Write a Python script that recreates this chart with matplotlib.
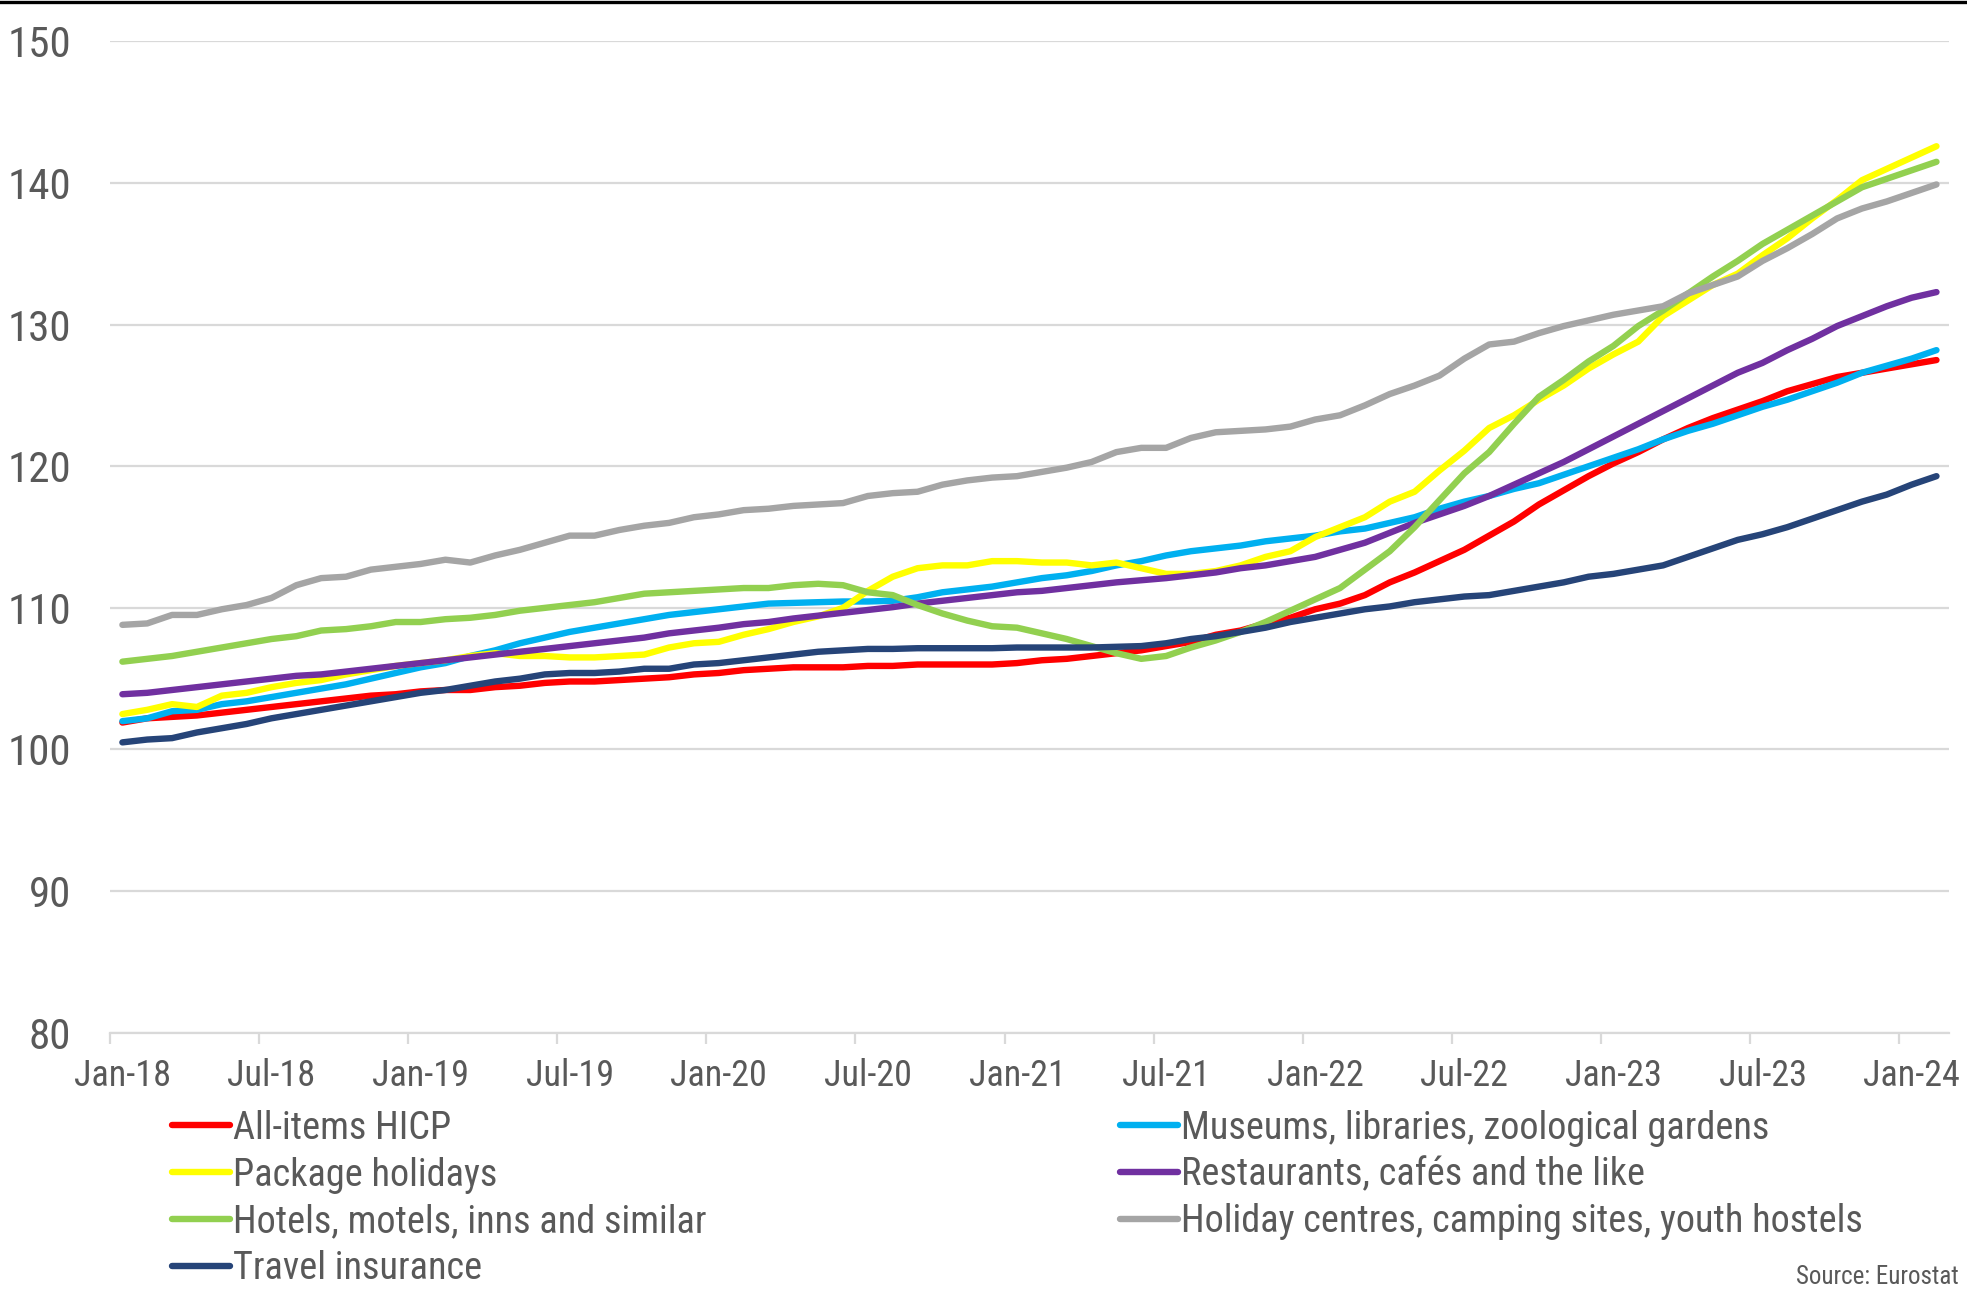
import matplotlib
matplotlib.use("Agg")
import matplotlib.pyplot as plt
from matplotlib.lines import Line2D
from matplotlib import font_manager as fm
import numpy as np

# ---------------- data (monthly index, Jan-18 .. Feb-24) ----------------
hicp = [101.9, 102.2, 102.3, 102.4, 102.6, 102.8, 103.0, 103.2, 103.4, 103.6, 103.8, 103.9, 104.1,
        104.2, 104.2, 104.4, 104.5, 104.7, 104.8, 104.8, 104.9, 105.0, 105.1, 105.3, 105.4, 105.6,
        105.7, 105.8, 105.8, 105.8, 105.9, 105.9, 106.0, 106.0, 106.0, 106.0, 106.1, 106.3, 106.4,
        106.6, 106.8, 107.0, 107.3, 107.6, 108.1, 108.4, 108.9, 109.3, 109.9,
        110.3, 110.9, 111.8, 112.5, 113.3, 114.1, 115.1, 116.1, 117.3, 118.3, 119.3, 120.2, 121.0,
        121.9, 122.7, 123.4, 124.0, 124.6, 125.3, 125.8, 126.3, 126.6, 126.9, 127.2, 127.5]

museums = [102.0, 102.2, 102.7, 102.8, 103.2, 103.4, 103.7, 104.0, 104.3, 104.6, 105.0, 105.4, 105.8,
           106.1, 106.6, 107.0, 107.5, 107.9, 108.3, 108.6, 108.9, 109.2, 109.5, 109.7, 109.9,
           110.1, 110.3, 110.35, 110.4, 110.45, 110.45, 110.5, 110.75, 111.1, 111.3, 111.5, 111.8,
           112.1, 112.3, 112.6, 113.0, 113.3, 113.7, 114.0, 114.2, 114.4, 114.7, 114.9, 115.1, 115.4,
           115.6, 116.0,
           116.4, 117.0, 117.5, 117.9, 118.4, 118.8, 119.4, 120.0, 120.6, 121.2, 121.9, 122.5, 123.0,
           123.6, 124.2, 124.7, 125.3, 125.9, 126.6, 127.1, 127.6, 128.2]

package = [102.5, 102.8, 103.2, 103.0, 103.8, 104.0, 104.4, 104.7, 104.9, 105.3, 105.6, 105.9, 106.1,
           106.3, 106.6, 106.8, 106.6, 106.6, 106.5, 106.5, 106.6, 106.7, 107.2, 107.5, 107.6,
           108.1, 108.5, 109.0, 109.4, 110.0, 111.2, 112.2, 112.8, 113.0, 113.0, 113.3, 113.3, 113.2,
           113.2, 113.0, 113.2, 112.8, 112.4, 112.4, 112.6, 113.0, 113.6, 114.0, 115.0, 115.7, 116.4,
           117.5,
           118.2, 119.7, 121.1, 122.7, 123.6, 124.7, 125.7, 126.9, 127.9, 128.8, 130.6, 131.7, 132.8,
           133.6, 134.9, 136.1, 137.5, 138.8, 140.2, 141.0, 141.8, 142.6]

restaurants = [103.9, 104.0, 104.2, 104.4, 104.6, 104.8, 105.0, 105.2, 105.3, 105.5, 105.7, 105.9,
               106.1, 106.3, 106.5, 106.7, 106.9, 107.1, 107.3, 107.5, 107.7, 107.9, 108.2, 108.4,
               108.6, 108.85, 109.0, 109.25, 109.45, 109.65, 109.85, 110.05, 110.3, 110.5, 110.7,
               110.9, 111.1, 111.2, 111.4, 111.6, 111.8, 111.95, 112.1, 112.3, 112.5, 112.8, 113.0,
               113.3, 113.6, 114.1, 114.6, 115.3,
               116.0, 116.6, 117.2, 117.9, 118.7, 119.5, 120.3, 121.2, 122.1, 123.0, 123.9, 124.8,
               125.7, 126.6, 127.3, 128.2, 129.0, 129.9, 130.6, 131.3, 131.9, 132.3]

hotels = [106.2, 106.4, 106.6, 106.9, 107.2, 107.5, 107.8, 108.0, 108.4, 108.5, 108.7, 109.0, 109.0,
          109.2, 109.3, 109.5, 109.8, 110.0, 110.2, 110.4, 110.7, 111.0, 111.1, 111.2, 111.3,
          111.4, 111.4, 111.6, 111.7, 111.6, 111.1, 110.9, 110.2, 109.6, 109.1, 108.7, 108.6, 108.2,
          107.8, 107.3, 106.8, 106.4, 106.6, 107.2, 107.7, 108.3, 109.0, 109.8, 110.6, 111.4, 112.7,
          114.0,
          115.7, 117.6, 119.5, 121.0, 123.0, 124.9, 126.1, 127.4, 128.5, 129.9, 131.0, 132.2, 133.4,
          134.5, 135.7, 136.7, 137.7, 138.7, 139.7, 140.3, 140.9, 141.5]

holiday_centres = [108.8, 108.9, 109.5, 109.5, 109.9, 110.2, 110.7, 111.6, 112.1, 112.2, 112.7, 112.9,
                   113.1, 113.4, 113.2, 113.7, 114.1, 114.6, 115.1, 115.1, 115.5, 115.8, 116.0, 116.4,
                   116.6, 116.9,
                   117.0, 117.2, 117.3, 117.4, 117.9, 118.1, 118.2, 118.7, 119.0, 119.2, 119.3, 119.6,
                   119.9, 120.3, 121.0, 121.3, 121.3, 122.0, 122.4, 122.5, 122.6, 122.8, 123.3, 123.6,
                   124.3, 125.1,
                   125.7, 126.4, 127.6, 128.6, 128.8, 129.4, 129.9, 130.3, 130.7, 131.0, 131.3, 132.2,
                   132.8, 133.4, 134.5, 135.4, 136.4, 137.5, 138.2, 138.7, 139.3, 139.9]

travel_insurance = [100.5, 100.7, 100.8, 101.2, 101.5, 101.8, 102.2, 102.5, 102.8, 103.1, 103.4, 103.7,
                    104.0, 104.2, 104.5, 104.8, 105.0, 105.3, 105.4, 105.4, 105.5, 105.7, 105.7, 106.0,
                    106.1, 106.3,
                    106.5, 106.7, 106.9, 107.0, 107.1, 107.1, 107.15, 107.15, 107.15, 107.15, 107.2,
                    107.2, 107.2, 107.2, 107.25, 107.3, 107.5, 107.8, 108.0, 108.3, 108.6, 109.0, 109.3,
                    109.6, 109.9, 110.1, 110.4, 110.6, 110.8, 110.9, 111.2, 111.5, 111.8, 112.2, 112.4,
                    112.7, 113.0, 113.6, 114.2, 114.8, 115.2, 115.7, 116.3, 116.9, 117.5, 118.0, 118.7,
                    119.3]

series_names = ["All-items HICP", "Museums, libraries, zoological gardens", "Package holidays",
                "Restaurants, cafés and the like", "Hotels, motels, inns and similar",
                "Holiday centres, camping sites, youth hostels", "Travel insurance"]

tick_labels = ["Jan-18", "Jul-18", "Jan-19", "Jul-19", "Jan-20", "Jul-20", "Jan-21",
               "Jul-21", "Jan-22", "Jul-22", "Jan-23", "Jul-23", "Jan-24"]
y_ticks = [80, 90, 100, 110, 120, 130, 140, 150]

# ---------------- style ----------------
names = {f.name for f in fm.fontManager.ttflist}
font = "DejaVu Sans"
for cand in ["Liberation Sans Narrow", "Arial Narrow", "Roboto Condensed", "Archivo Narrow",
             "PT Sans Narrow", "Liberation Sans"]:
    if cand in names:
        font = cand
        break
plt.rcParams["font.family"] = [font, "DejaVu Sans"]
plt.rcParams["font.weight"] = "normal"

colors = ["#FF0000", "#00B0F0", "#FFFF00", "#7030A0", "#92D050", "#A5A5A5", "#264478"]
txt = "#595959"
grid_c = "#D9D9D9"

fig = plt.figure(figsize=(19.67, 12.91), dpi=100)
ax = fig.add_axes([0.0559, 0.2001, 0.9349, 0.7678])

data = [hicp, museums, package, restaurants, hotels, holiday_centres, travel_insurance]
handles = []
for vals, name, c in zip(data, series_names, colors):
    x = np.arange(len(vals))
    ln, = ax.plot(x, vals, color=c, lw=4.6, solid_capstyle="round",
                  solid_joinstyle="round", label=name)
    handles.append(ln)

n = len(hicp)
ax.set_xlim(-0.5, n - 0.5)
ax.set_ylim(80, 150)
ax.set_yticks(y_ticks)
ax.yaxis.grid(True, color=grid_c, lw=1.6)
ax.set_axisbelow(True)

tick_pos = np.arange(0, 6 * len(tick_labels), 6)
ax.set_xticks(tick_pos - 0.5)
ax.set_xticklabels([])
ax.set_xticks(tick_pos, minor=True)
ax.set_xticklabels(tick_labels, minor=True)
ax.tick_params(axis="x", which="major", length=8, width=1.6, color=grid_c)
ax.tick_params(axis="x", which="minor", length=0, pad=18, labelsize=26, labelcolor=txt)
ax.tick_params(axis="y", length=0, pad=28, labelsize=31, labelcolor=txt)

for s in ["left", "right", "top"]:
    ax.spines[s].set_visible(False)
ax.spines["bottom"].set_color(grid_c)
ax.spines["bottom"].set_linewidth(1.6)

# legends (two columns)
col1 = [handles[0], handles[2], handles[4], handles[6]]
col2 = [handles[1], handles[3], handles[5]]
common = dict(frameon=False, fontsize=27.5, handlelength=1.52, handletextpad=0.08,
              labelspacing=0.26, borderpad=0, borderaxespad=0, labelcolor=txt)
leg1 = fig.legend(handles=col1, labels=[h.get_label() for h in col1], loc="upper left",
                  bbox_to_anchor=(0.0874, 0.1405), **common)
leg2 = fig.legend(handles=col2, labels=[h.get_label() for h in col2], loc="upper left",
                  bbox_to_anchor=(0.5694, 0.1405), **common)

fig.text(0.996, 0.011, "Source: Eurostat", ha="right", va="center", fontsize=18, color=txt)

# top border line
fig.add_artist(Line2D([0, 1], [0.9988, 0.9988], transform=fig.transFigure, color="black", lw=2.4))

fig.savefig("out.png", dpi=100, facecolor="white")
